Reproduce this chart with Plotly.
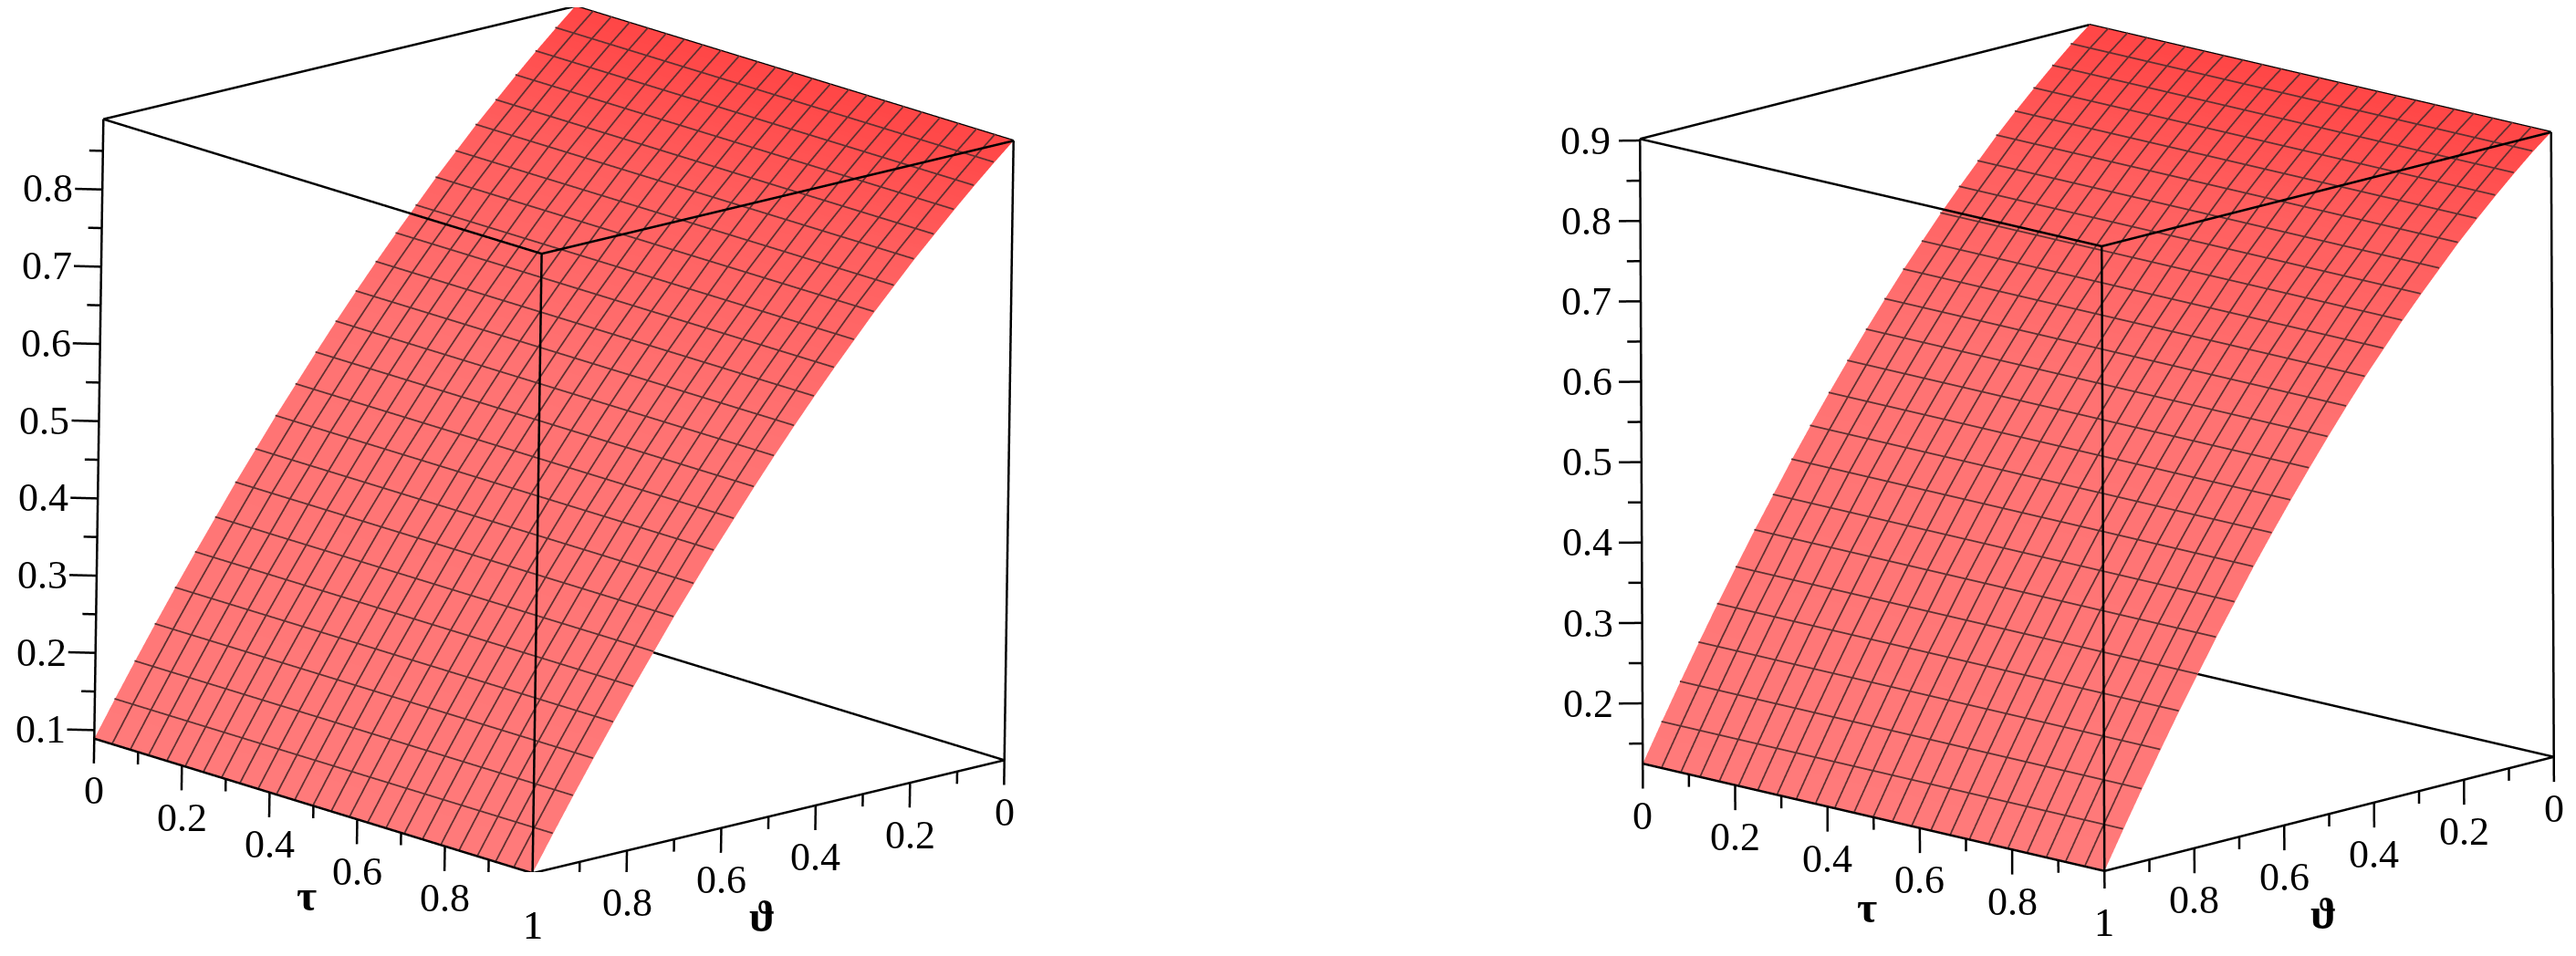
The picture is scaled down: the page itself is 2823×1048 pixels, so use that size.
import plotly.graph_objects as go

# surface heights, one value per theta grid line (theta = 0 .. 1)
Z_LEFT = [0.891, 0.868, 0.844, 0.819, 0.793, 0.767, 0.739, 0.711, 0.681, 0.651, 0.620, 0.588, 0.555,
          0.521, 0.486, 0.451, 0.414, 0.377, 0.338, 0.299, 0.259, 0.218, 0.176, 0.133, 0.089]
Z_RIGHT = [0.902, 0.883, 0.862, 0.840, 0.817, 0.793, 0.767, 0.741, 0.714, 0.685, 0.656, 0.625, 0.593,
           0.560, 0.526, 0.491, 0.455, 0.417, 0.379, 0.339, 0.299, 0.257, 0.214, 0.170, 0.125]
GRID = [i / 24 for i in range(25)]

AXIS_MAJOR = [0, 0.2, 0.4, 0.6, 0.8, 1]
AXIS_LABELS = ["0", "0.2", "0.4", "0.6", "0.8", "1"]
AXIS_MINOR = [0.1, 0.3, 0.5, 0.7, 0.9]

Z_MAJOR_LEFT = [0.1, 0.2, 0.3, 0.4, 0.5, 0.6, 0.7, 0.8]
Z_MINOR_LEFT = [0.15, 0.25, 0.35, 0.45, 0.55, 0.65, 0.75, 0.85]
Z_MAJOR_RIGHT = [0.2, 0.3, 0.4, 0.5, 0.6, 0.7, 0.8, 0.9]
Z_MINOR_RIGHT = [0.15, 0.25, 0.35, 0.45, 0.55, 0.65, 0.75, 0.85]

W, H = 2823, 1048
FONT = dict(family="Liberation Serif", size=44, color="black")
COLORS = [[0, "#ff7a7a"], [0.6, "#ff7272"], [0.85, "#ff5e5e"], [1, "#ff4646"]]
PAD = 0.05


def panel(fig, name, z_vals, z_major, z_minor, eye, up, box, aspect):
    zmin, zmax = min(z_vals), max(z_vals)
    span = zmax - zmin
    zz = [z_vals for _ in GRID]  # rows follow tau, columns follow theta

    fig.add_trace(go.Surface(
        x=GRID, y=GRID, z=zz, scene=name, showscale=False, colorscale=COLORS,
        cmin=zmin, cmax=zmax, hoverinfo="skip",
        lighting=dict(ambient=1, diffuse=0, specular=0, fresnel=0, roughness=1),
    ))

    # wireframe, lifted a hair so it stays on top of the surface
    lift = 0.002 * span
    gx, gy, gz = [], [], []
    for g, v in zip(GRID[1:-1], z_vals[1:-1]):
        gx.extend([g, g, None])
        gy.extend([0, 1, None])
        gz.extend([v + lift, v + lift, None])
    for g in GRID[1:-1]:
        gx.extend(GRID + [None])
        gy.extend([g] * len(GRID) + [None])
        gz.extend([v + lift for v in z_vals] + [None])
    fig.add_trace(go.Scatter3d(x=gx, y=gy, z=gz, mode="lines", scene=name, hoverinfo="skip",
                               line=dict(color="#5f3030", width=3.5), showlegend=False))

    # cube edges
    xs, ys, zs = [], [], []

    def seg(a, b):
        xs.extend([a[0], b[0], None])
        ys.extend([a[1], b[1], None])
        zs.extend([a[2], b[2], None])

    for t in (0, 1):
        for u in (0, 1):
            seg((t, u, zmin), (t, u, zmax))
            seg((t, 0, zmin if u == 0 else zmax), (t, 1, zmin if u == 0 else zmax))
            seg((0, t, zmin if u == 0 else zmax), (1, t, zmin if u == 0 else zmax))

    # ticks on the two bottom axes hang straight down, z ticks point left
    for v in AXIS_MAJOR:
        seg((1, v, zmin), (1, v, zmin - 0.04 * span))
        seg((v, 1, zmin), (v, 1, zmin - 0.04 * span))
    for v in AXIS_MINOR:
        seg((1, v, zmin), (1, v, zmin - 0.02 * span))
        seg((v, 1, zmin), (v, 1, zmin - 0.02 * span))
    for v in z_major:
        seg((1, 0, v), (1.03, -0.03, v))
    for v in z_minor:
        seg((1, 0, v), (1.015, -0.015, v))
    fig.add_trace(go.Scatter3d(x=xs, y=ys, z=zs, mode="lines", scene=name, hoverinfo="skip",
                               line=dict(color="black", width=5), showlegend=False))

    notes = []
    for v, s in zip(AXIS_MAJOR, AXIS_LABELS):
        notes.append(dict(x=1, y=v, z=zmin, text=s, showarrow=False, yshift=-57, font=FONT))
        notes.append(dict(x=v, y=1, z=zmin, text=s, showarrow=False, yshift=-57, font=FONT))
    for v in z_major:
        notes.append(dict(x=1.03, y=-0.03, z=v, text=str(v), showarrow=False, xanchor="right",
                          yanchor="middle", font=FONT))
    title_font = dict(family="Liberation Serif", size=48, color="black")
    notes.append(dict(x=1, y=0.485, z=zmin, text="<b>τ</b>", showarrow=False, yshift=-100, font=title_font))
    notes.append(dict(x=0.513, y=1, z=zmin, text="<b>ϑ</b>", showarrow=False, yshift=-108, font=title_font))

    hidden = dict(visible=False, showgrid=False, zeroline=False, showbackground=False,
                  showspikes=False, autorange=False)
    scene = dict(
        domain=dict(x=[box[0] / W, box[1] / W], y=[1 - box[3] / H, 1 - box[2] / H]),
        xaxis=dict(range=[-PAD, 1 + PAD], **hidden),
        yaxis=dict(range=[-PAD, 1 + PAD], **hidden),
        zaxis=dict(range=[zmin - PAD * span, zmax + PAD * span], **hidden),
        aspectmode="manual",
        aspectratio=dict(x=aspect, y=aspect, z=aspect),
        camera=dict(projection=dict(type="orthographic"),
                    eye=dict(zip("xyz", [v * 2.5 for v in eye])),
                    up=dict(zip("xyz", up)),
                    center=dict(x=0, y=0, z=0)),
        annotations=notes,
    )
    fig.update_layout({name: scene})


fig = go.Figure()
panel(fig, "scene", Z_LEFT, Z_MAJOR_LEFT, Z_MINOR_LEFT,
      (0.6576, 0.7023, 0.2725), (-0.1755, -0.2090, 0.9621), (0, 1198, 0, 948), 1.638)
panel(fig, "scene2", Z_RIGHT, Z_MAJOR_RIGHT, Z_MINOR_RIGHT,
      (0.6946, 0.6775, 0.2433), (-0.1772, -0.1667, 0.9703), (1766, 2814, 0, 966), 1.608)
fig.update_layout(width=W, height=H, margin=dict(l=0, r=0, t=0, b=0), showlegend=False,
                  paper_bgcolor="white", hovermode=False)
fig.write_html("out.html")
